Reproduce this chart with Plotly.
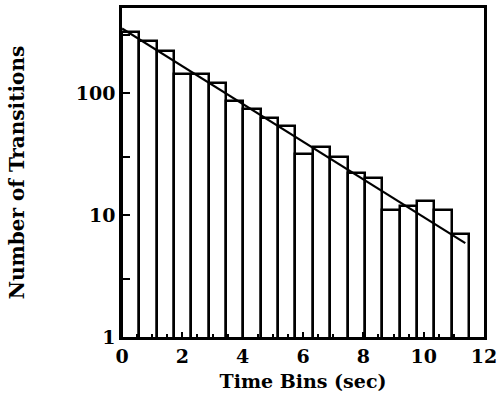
import plotly.graph_objects as go

# Histogram data: left edges of time bins (sec), bin width, and counts
bin_left = [0.0, 0.575, 1.15, 1.725, 2.3, 2.875, 3.45, 4.025, 4.6, 5.175,
            5.75, 6.325, 6.9, 7.475, 8.05, 8.625, 9.2, 9.775, 10.35, 10.925]
bin_width = 0.575
counts = [320, 270, 224, 143, 145, 121, 86, 75, 63, 54,
          32, 36, 30, 22, 20, 11, 12, 13, 11, 7]

# Exponential fit line endpoints (straight on log axis)
fit_t = [0.0, 11.38]
fit_n = [340, 5.9]

y_tickvals = [1, 3, 10, 30, 100, 300]
y_ticktext = ["1", "", "10", "", "100", ""]
x_tickvals = [0, 2, 4, 6, 8, 10, 12]

font_family = "DejaVu Serif"

fig = go.Figure()
fig.add_trace(go.Bar(
    x=bin_left, y=counts, width=[bin_width] * len(counts), offset=0,
    marker=dict(color="white", line=dict(color="black", width=2.5)),
    showlegend=False,
))
fig.add_trace(go.Scatter(
    x=fit_t, y=fit_n, mode="lines",
    line=dict(color="black", width=2.2), showlegend=False,
))

fig.update_layout(
    width=502, height=403,
    margin=dict(l=122, r=16, t=5, b=66),
    paper_bgcolor="white", plot_bgcolor="white",
    font=dict(family=font_family, color="black", size=16),
    bargap=0,
)
fig.update_xaxes(
    range=[0, 12], tickvals=x_tickvals,
    ticks="inside", ticklen=5, tickwidth=1.5, tickcolor="black",
    minor=dict(dtick=0.5, ticks="inside", ticklen=3, tickcolor="black", showgrid=False),
    showline=True, linecolor="black", linewidth=2.5, mirror=True,
    showgrid=False, zeroline=False,
    tickfont=dict(family=font_family, size=19, weight="bold"),
    title=dict(text="<b>Time Bins (sec)</b>", font=dict(family=font_family, size=19), standoff=10),
)
fig.update_yaxes(
    type="log", range=[0, 2.7],
    tickvals=y_tickvals, ticktext=y_ticktext,
    ticks="inside", ticklen=8, tickwidth=1.5, tickcolor="black",
    showline=True, linecolor="black", linewidth=2.5, mirror=True,
    showgrid=False, zeroline=False,
    tickfont=dict(family=font_family, size=19, weight="bold"),
    title=dict(text="<b>Number of Transitions</b>", font=dict(family=font_family, size=20), standoff=46),
)

fig.write_html("out.html")
